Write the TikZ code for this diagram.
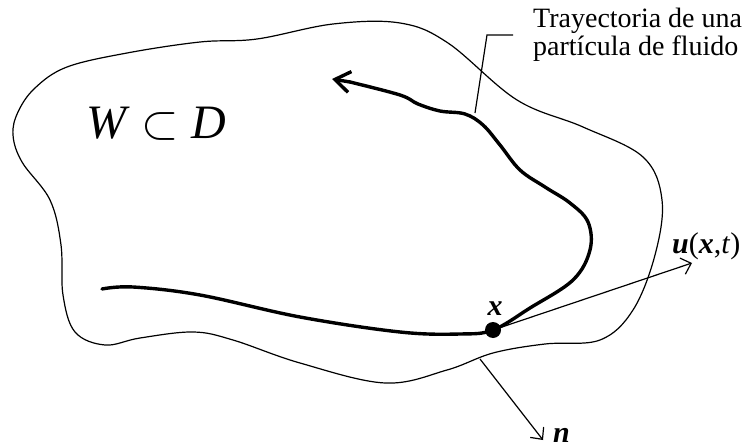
\RequirePackage{fix-cm}
\documentclass[tikz,border=0pt]{standalone}
\usepackage{fontspec}
\setmainfont{Liberation Serif}
\usetikzlibrary{arrows.meta}
\begin{document}
\begin{tikzpicture}[x=1pt,y=-1pt,
  bound/.style={line width=1.2pt},
  traj/.style={line width=3.4pt,line cap=round},
  thinarrow/.style={line width=1.2pt,-{Straight Barb[length=9pt,width=17pt]}},
  lbl/.style={inner sep=0pt,font=\fontsize{28}{28}\selectfont},
]
\useasboundingbox (0,0) rectangle (745,447);
% boundary of W
\draw[bound] plot[smooth cycle,tension=0.6] coordinates {
 (127,53) (200,42) (257,39) (333,24) (400,23)
 (448,43) (517,100) (583,127) (643,157) (662,200)
 (655,255) (633,310) (600,340) (545,344)
 (493,353) (447,370) (385,383) (300,363)
 (233,340) (193,332) (140,338) (105,345) (75,332) (63,295)
 (61,245) (50,200) (22,162) (13,135) (18,112) (35,88) (67,67)
};
% trajectory
\node[circle,fill,inner sep=0pt,minimum size=16pt] (P) at (493,330) {};
\coordinate (Tend) at (332,79);
\draw[traj] plot[smooth,tension=0.6] coordinates {
 (102,289) (133,287) (200,295) (300,317) (400,332) (460,334) (493,330)
 (530,308) (573,280) (590,250) (588,222) (570,203) (545,187) (520,170)
 (500,145) (483,125) (465,114) (440,111) (418,104) (400,95)
 (350,82)};
\draw[traj,-{Straight Barb[length=15pt,width=21pt]}] (350,82) -- (Tend);
% velocity
\coordinate (U) at (692,263);
\draw[thinarrow] (P.center) -- (U);
% normal
\coordinate (N0) at (480,359);
\coordinate (N1) at (543,440);
\draw[thinarrow] (N0) -- (N1);
% leader line
\coordinate (L0) at (475,113);
\coordinate (L1) at (487,35);
\coordinate (L2) at (513,35);
\draw[line width=1.2pt] (L0) -- (L1) -- (L2);
% labels
\node[lbl,anchor=base west,align=left] (lab) at (533,55)
 {Trayectoria de una\\partícula de fluido};
\node[inner sep=0pt,anchor=base west,font=\fontsize{48}{48}\selectfont] (W) at (86,138)
 {\textit{W}\hspace{12pt}$\subset$\hspace{12pt}\textit{D}};
\node[lbl,anchor=base west,font=\fontsize{30}{30}\selectfont] (ulab) at (672,253)
 {\textbf{\textit{u}}(\textbf{\textit{x}},\textit{t})};
\node[lbl,anchor=base,font=\fontsize{30}{30}\selectfont] (xlab) at (495,315)
 {\textbf{\textit{x}}};
\node[lbl,anchor=base west,font=\fontsize{30}{30}\selectfont] (nlab) at (553,442)
 {\textbf{\textit{n}}};
\end{tikzpicture}
\end{document}
